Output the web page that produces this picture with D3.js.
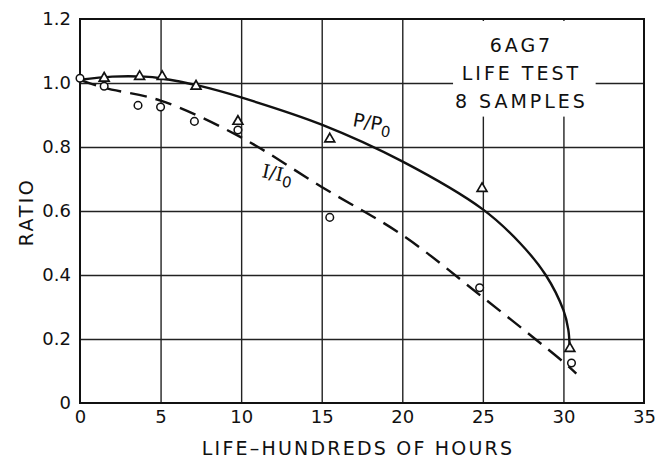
<!DOCTYPE html>
<html>
<head>
<meta charset="utf-8">
<script src="https://cdn.jsdelivr.net/npm/d3@7"></script>
<style>
  body { margin: 0; background: #fff; }
  text { font-family: "DejaVu Sans", sans-serif; fill: #111; }
</style>
</head>
<body>
<svg id="chart"></svg>
<script>
// ---------- data ----------
// measured points, P/P0 (triangles)
var powerX = [1.5, 3.7, 5.1, 7.2, 9.8, 15.5, 24.95, 30.4];
var powerY = [1.015, 1.02, 1.02, 0.99, 0.88, 0.825, 0.67, 0.17];
// measured points, I/I0 (circles)
var currentX = [0, 1.5, 3.6, 5.0, 7.1, 9.8, 15.5, 24.8, 30.5];
var currentY = [1.015, 0.99, 0.93, 0.925, 0.88, 0.853, 0.58, 0.36, 0.125];
// hand-drawn fitted curves
var powerCurveX = [0, 2, 4, 5, 7.5, 10, 15, 20, 25, 27.3, 28.9, 30, 30.3, 30.38];
var powerCurveY = [1.01, 1.02, 1.02, 1.015, 0.99, 0.955, 0.87, 0.755, 0.605, 0.5, 0.4, 0.29, 0.23, 0.18];
var currentCurveX = [0, 1.5, 5, 10, 15, 20, 25, 30, 30.8];
var currentCurveY = [1.01, 0.985, 0.945, 0.83, 0.675, 0.525, 0.33, 0.128, 0.092];

var xTicks = [0, 5, 10, 15, 20, 25, 30, 35];
var yTicks = [0, 0.2, 0.4, 0.6, 0.8, 1.0, 1.2];
var yTickLabels = ["0", "0.2", "0.4", "0.6", "0.8", "1.0", "1.2"];
var noteLines = ["6AG7", "LIFE TEST", "8 SAMPLES"];

// ---------- layout ----------
var W = 671, H = 461;
var margin = {top: 19, right: 27, bottom: 58, left: 80};
var width = W - margin.left - margin.right,
    height = H - margin.top - margin.bottom;

var svg = d3.select("#chart").attr("width", W).attr("height", H);
var g = svg.append("g").attr("transform", "translate(" + margin.left + "," + margin.top + ")");

var x = d3.scaleLinear().domain([0, 35]).range([0, width]);
var y = d3.scaleLinear().domain([0, 1.2]).range([height, 0]);

// grid lines
g.append("g")
  .attr("class", "grid")
  .call(d3.axisBottom(x).tickValues(xTicks.slice(1, -1)).tickSize(height).tickFormat(""))
  .call(function(s) { s.select(".domain").remove(); })
  .selectAll("line").attr("stroke", "#222").attr("stroke-width", 1.4);
g.append("g")
  .attr("class", "grid")
  .call(d3.axisLeft(y).tickValues(yTicks.slice(1, -1)).tickSize(-width).tickFormat(""))
  .call(function(s) { s.select(".domain").remove(); })
  .selectAll("line").attr("stroke", "#222").attr("stroke-width", 1.4);

// white box behind the note, breaks the grid
g.append("rect")
  .attr("x", x(23.15)).attr("y", 2)
  .attr("width", x(32.0) - x(23.15)).attr("height", y(0.895) - 2)
  .attr("fill", "#fff");

// frame
g.append("rect")
  .attr("width", width).attr("height", height)
  .attr("fill", "none").attr("stroke", "#111").attr("stroke-width", 2);

// tick labels
var xAxis = g.append("g")
  .attr("transform", "translate(0," + height + ")")
  .call(d3.axisBottom(x).tickValues(xTicks).tickSize(0).tickPadding(7));
xAxis.select(".domain").remove();
xAxis.selectAll("text").style("font-size", "18px").attr("fill", "#111");

var yAxis = g.append("g")
  .call(d3.axisLeft(y).tickValues(yTicks).tickSize(0).tickPadding(9)
    .tickFormat(function(d, i) { return yTickLabels[i]; }));
yAxis.select(".domain").remove();
yAxis.selectAll("text").style("font-size", "18px").attr("fill", "#111");

// axis titles
svg.append("text")
  .attr("x", 358).attr("y", 455)
  .attr("text-anchor", "middle")
  .style("font-size", "19px").style("letter-spacing", "2.2px")
  .text("LIFE\u2013HUNDREDS OF HOURS");

svg.append("text")
  .attr("transform", "translate(33,212) rotate(-90)")
  .attr("text-anchor", "middle")
  .style("font-size", "19px").style("letter-spacing", "2.5px")
  .text("RATIO");

// note
g.selectAll(".note")
  .data(noteLines)
  .enter().append("text")
  .attr("class", "note")
  .attr("x", x(27.3) + 1.5)
  .attr("y", function(d, i) { return 33 + i * 28; })
  .attr("text-anchor", "middle")
  .style("font-size", "19px").style("letter-spacing", "3px")
  .text(function(d) { return d; });

// curves
var line = d3.line()
  .x(function(d) { return x(d[0]); })
  .y(function(d) { return y(d[1]); })
  .curve(d3.curveCatmullRom.alpha(0.5));

g.append("path")
  .datum(d3.zip(powerCurveX, powerCurveY))
  .attr("d", line)
  .attr("fill", "none").attr("stroke", "#111").attr("stroke-width", 2.4);

g.append("path")
  .datum(d3.zip(currentCurveX, currentCurveY))
  .attr("d", line)
  .attr("fill", "none").attr("stroke", "#111").attr("stroke-width", 2.4)
  .attr("stroke-dasharray", "17,9");

// markers
g.selectAll(".tri")
  .data(d3.zip(powerX, powerY))
  .enter().append("path")
  .attr("class", "tri")
  .attr("transform", function(d) { return "translate(" + x(d[0]) + "," + y(d[1]) + ")"; })
  .attr("d", d3.symbol().type(d3.symbolTriangle).size(42))
  .attr("fill", "#fff").attr("stroke", "#111").attr("stroke-width", 1.7);

g.selectAll(".dot")
  .data(d3.zip(currentX, currentY))
  .enter().append("circle")
  .attr("class", "dot")
  .attr("cx", function(d) { return x(d[0]); })
  .attr("cy", function(d) { return y(d[1]); })
  .attr("r", 3.8)
  .attr("fill", "#fff").attr("stroke", "#111").attr("stroke-width", 1.5);

// curve labels
var pLab = svg.append("text")
  .attr("transform", "translate(352,126) rotate(10)")
  .style("font-size", "19px");
pLab.append("tspan").text("P/P");
pLab.append("tspan").attr("dy", 5).style("font-size", "15px").text("0");

var iLab = svg.append("text")
  .attr("transform", "translate(261,177) rotate(12)")
  .style("font-size", "19px");
iLab.append("tspan").style("font-family", "DejaVu Serif").text("I");
iLab.append("tspan").text("/");
iLab.append("tspan").style("font-family", "DejaVu Serif").text("I");
iLab.append("tspan").attr("dy", 5).style("font-size", "15px").text("0");
</script>
</body>
</html>
